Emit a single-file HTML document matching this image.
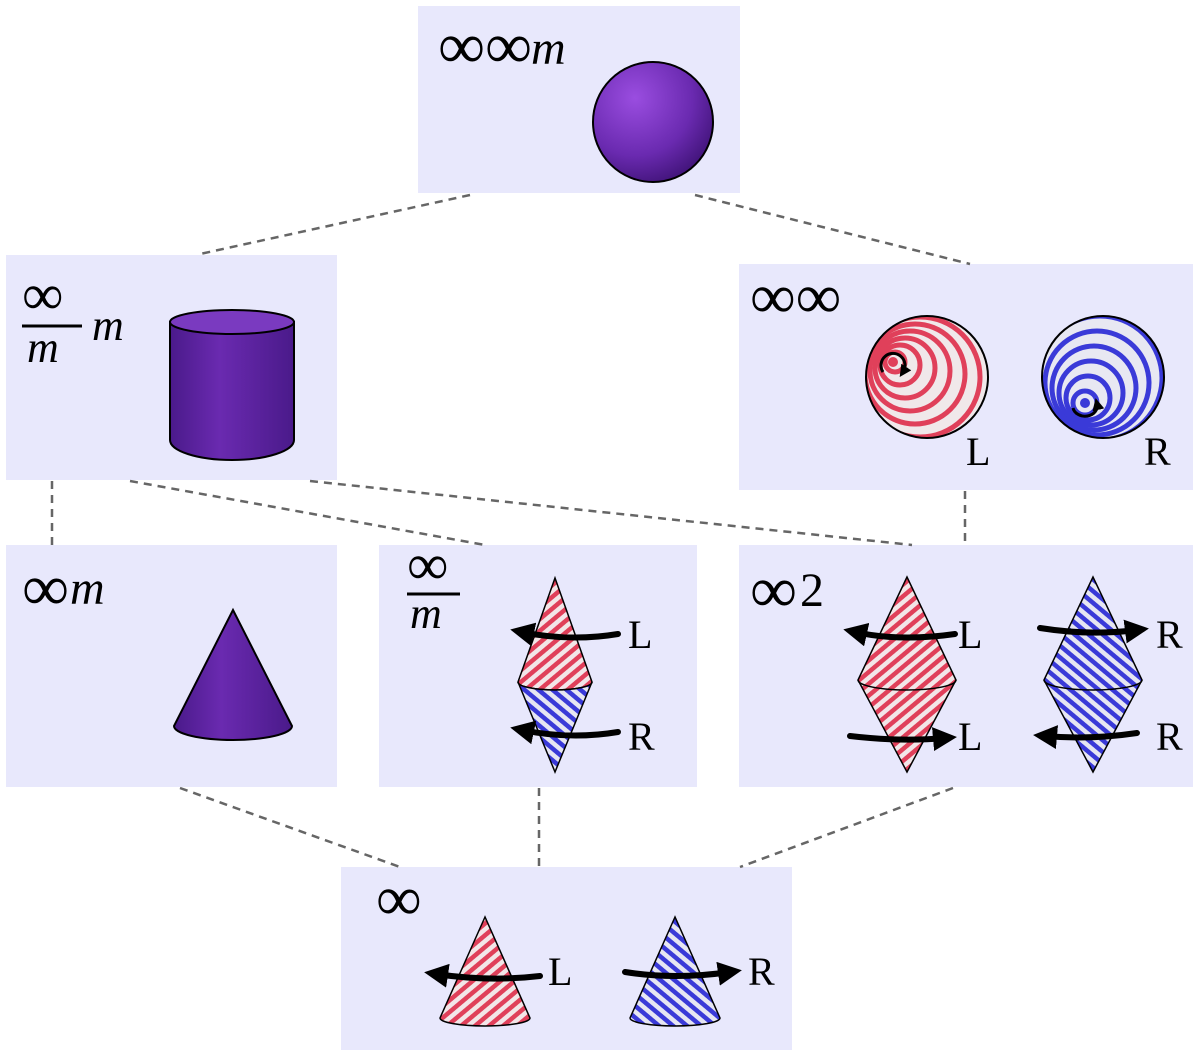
<!DOCTYPE html>
<html><head><meta charset="utf-8"><style>
body{margin:0;background:#fff;}
svg{display:block;}
text{font-family:"Liberation Serif",serif;fill:#000;}
</style></head><body>
<svg width="1200" height="1058" viewBox="0 0 1200 1058" xmlns="http://www.w3.org/2000/svg">
<defs>
<radialGradient id="pur" cx="0.35" cy="0.3" r="0.8">
<stop offset="0" stop-color="#9a4de0"/><stop offset="0.6" stop-color="#6a2ab0"/><stop offset="1" stop-color="#3a1070"/></radialGradient>
<linearGradient id="cyl" x1="0" x2="1">
<stop offset="0" stop-color="#4a1a8a"/><stop offset="0.4" stop-color="#6a2ab0"/><stop offset="1" stop-color="#4a1a8a"/></linearGradient>
<pattern id="rs" width="9" height="9" patternUnits="userSpaceOnUse" patternTransform="rotate(-40)">
<rect width="9" height="9" fill="#f2e6e8"/><rect width="9" height="4.5" fill="#e0405a"/></pattern>
<pattern id="bs" width="9" height="9" patternUnits="userSpaceOnUse" patternTransform="rotate(40)">
<rect width="9" height="9" fill="#e6e6f2"/><rect width="9" height="4.5" fill="#3a3ad8"/></pattern>
<marker id="ah" markerWidth="4" markerHeight="4" refX="2" refY="2" orient="auto"><path d="M0,0L4,2L0,4z" fill="#000"/></marker>
<clipPath id="cL"><circle cx="927" cy="377" r="61"/></clipPath>
<clipPath id="cR"><circle cx="1103" cy="377" r="61"/></clipPath>
</defs>
<g fill="#e8e8fc">
<rect x="418" y="6" width="322" height="187"/>
<rect x="6" y="255" width="331" height="225"/>
<rect x="739" y="264" width="454" height="226"/>
<rect x="6" y="545" width="331" height="242"/>
<rect x="379" y="545" width="318" height="242"/>
<rect x="739" y="545" width="454" height="242"/>
<rect x="341" y="867" width="451" height="183"/>
</g>
<g stroke="#666" stroke-width="2.5" stroke-dasharray="8,6" fill="none">
<path d="M470 195L200 254M695 195L970 264M52 481V545M130 481L485 545M310 481L912 545M965 491V545M180 788L400 867M539 788V867M953 788L740 867"/>
</g>
<!-- labels -->
<text x="438" y="68" font-size="66">∞∞</text>
<text x="531" y="64" font-size="48" font-style="italic">m</text>
<text x="22" y="314" font-size="58">∞</text>
<line x1="22" y1="326" x2="82" y2="326" stroke="#000" stroke-width="3"/>
<text x="27" y="362" font-size="44" font-style="italic">m</text>
<text x="92" y="340" font-size="44" font-style="italic">m</text>
<text x="750" y="318" font-size="64">∞∞</text>
<text x="22" y="610" font-size="66">∞</text>
<text x="70" y="604" font-size="48" font-style="italic">m</text>
<text x="407" y="584" font-size="58">∞</text>
<line x1="407" y1="594" x2="460" y2="594" stroke="#000" stroke-width="3"/>
<text x="410" y="628" font-size="44" font-style="italic">m</text>
<text x="750" y="612" font-size="66">∞</text>
<text x="800" y="606" font-size="48">2</text>
<text x="376" y="920" font-size="64">∞</text>
<!-- sphere -->
<circle cx="653" cy="122" r="60" fill="url(#pur)" stroke="#000" stroke-width="2"/>
<!-- cylinder -->
<path d="M170 322V440A62 20 0 0 0 294 440V322Z" fill="url(#cyl)" stroke="#000" stroke-width="2"/>
<ellipse cx="232" cy="322" rx="62" ry="12" fill="#7a3ac0" stroke="#000" stroke-width="2"/>
<!-- cone -->
<path d="M233 610L174 726A59 14 0 0 0 292 726Z" fill="url(#cyl)" stroke="#000" stroke-width="2"/>
<!-- striped spheres -->
<circle cx="927" cy="377" r="61" fill="#f0e8ea"/>
<g fill="none" stroke="#e0405a" stroke-width="5" clip-path="url(#cL)">
<circle cx="895" cy="362" r="10"/><circle cx="900" cy="365" r="20"/><circle cx="905" cy="368" r="30"/><circle cx="910" cy="371" r="40"/><circle cx="915" cy="374" r="50"/><circle cx="920" cy="377" r="60"/><circle cx="925" cy="380" r="70"/></g>
<circle cx="927" cy="377" r="61" fill="none" stroke="#000" stroke-width="2"/>
<circle cx="893" cy="362" r="5" fill="#e0405a"/>
<path d="M883 372A12 12 0 1 1 903 372" fill="none" stroke="#000" stroke-width="3" marker-end="url(#ah)"/>
<circle cx="1103" cy="377" r="61" fill="#e8e8f2"/>
<g fill="none" stroke="#3a3ad8" stroke-width="5" clip-path="url(#cR)">
<circle cx="1085" cy="403" r="12"/><circle cx="1088" cy="398" r="22"/><circle cx="1091" cy="393" r="32"/><circle cx="1094" cy="388" r="42"/><circle cx="1097" cy="383" r="52"/><circle cx="1100" cy="378" r="62"/><circle cx="1103" cy="373" r="72"/></g>
<circle cx="1103" cy="377" r="61" fill="none" stroke="#000" stroke-width="2"/>
<circle cx="1085" cy="403" r="5" fill="#3a3ad8"/>
<path d="M1073 408A12 10 0 0 0 1097 404" fill="none" stroke="#000" stroke-width="3" marker-end="url(#ah)"/>
<text x="966" y="465" font-size="40">L</text>
<text x="1144" y="465" font-size="40">R</text>
<!-- ∞/m double cone -->
<path d="M555 578L518 682A37 8 0 0 0 592 682Z" fill="url(#rs)" stroke="#000" stroke-width="1.5"/>
<path d="M555 772L518 682A37 8 0 0 0 592 682Z" fill="url(#bs)" stroke="#000" stroke-width="1.5"/>
<!-- ∞2 -->
<path d="M907 577L858 680L907 772L956 680Z" fill="url(#rs)" stroke="#000" stroke-width="1.5"/>
<path d="M858 680A49 10 0 0 0 956 680" fill="none" stroke="#000" stroke-width="1.5"/>
<path d="M1093 577L1044 680L1093 772L1142 680Z" fill="url(#bs)" stroke="#000" stroke-width="1.5"/>
<path d="M1044 680A49 10 0 0 0 1142 680" fill="none" stroke="#000" stroke-width="1.5"/>
<!-- bottom cones -->
<path d="M485 917L440 1018A45 8 0 0 0 530 1018Z" fill="url(#rs)" stroke="#000" stroke-width="1.5"/>
<path d="M675 917L630 1018A45 8 0 0 0 720 1018Z" fill="url(#bs)" stroke="#000" stroke-width="1.5"/>
<!-- arrows -->
<g fill="none" stroke="#000" stroke-width="6" stroke-linecap="round">
<path d="M618 634Q570 642 522 632" marker-end="url(#ah)"/>
<path d="M618 732Q570 740 522 730" marker-end="url(#ah)"/>
<path d="M955 634Q900 642 855 632" marker-end="url(#ah)"/>
<path d="M850 736Q900 742 945 738" marker-end="url(#ah)"/>
<path d="M1040 628Q1090 636 1137 630" marker-end="url(#ah)"/>
<path d="M1137 733Q1090 740 1045 736" marker-end="url(#ah)"/>
<path d="M540 976Q490 982 436 974" marker-end="url(#ah)"/>
<path d="M625 972Q675 980 730 972" marker-end="url(#ah)"/>
</g>
<g font-size="40">
<text x="628" y="648">L</text><text x="628" y="750">R</text>
<text x="958" y="648">L</text><text x="958" y="750">L</text>
<text x="1156" y="648">R</text><text x="1156" y="750">R</text>
<text x="548" y="985">L</text><text x="748" y="985">R</text>
</g>
</svg>
</body></html>
